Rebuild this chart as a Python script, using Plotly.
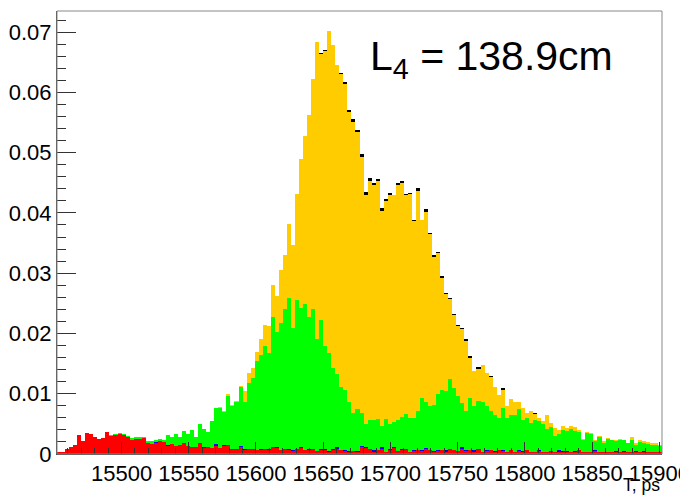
import numpy as np
import plotly.graph_objects as go

# Histogram binning: 150 bins of 3 ps
T_MIN = 15452.0
BIN_WIDTH = 3.0
N_BINS = 150

# Cumulative (stacked) levels per bin, read from the top edge of each layer
red_top = [
    0.0003, 0.0003, 0.0008, 0.0012, 0.0015, 0.0032, 0.0022, 0.0035, 0.0034, 0.0028,
    0.0025, 0.0027, 0.0036, 0.0030, 0.0031, 0.0034, 0.0031, 0.0028, 0.0024, 0.0025,
    0.0025, 0.0026, 0.0018, 0.0016, 0.0019, 0.0022, 0.0020, 0.0013, 0.0017, 0.0013,
    0.0015, 0.0018, 0.0013, 0.0012, 0.0011, 0.0019, 0.0010, 0.0012, 0.0010, 0.0014,
    0.0010, 0.0013, 0.0015, 0.0008, 0.0009, 0.0012, 0.0007, 0.0008, 0.0008, 0.0006,
    0.0007, 0.0009, 0.0006, 0.0011, 0.0010, 0.0006, 0.0008, 0.0007, 0.0005, 0.0009,
    0.0010, 0.0006, 0.0006, 0.0008, 0.0005, 0.0007, 0.0006, 0.0004, 0.0007, 0.0009,
    0.0006, 0.0005, 0.0004, 0.0005, 0.0004, 0.0011, 0.0010, 0.0008, 0.0004, 0.0006,
    0.0009, 0.0004, 0.0007, 0.0010, 0.0005, 0.0006, 0.0009, 0.0003, 0.0005, 0.0007,
    0.0005, 0.0008, 0.0006, 0.0004, 0.0005, 0.0007, 0.0004, 0.0009, 0.0006, 0.0005,
    0.0009, 0.0005, 0.0007, 0.0004, 0.0008, 0.0003, 0.0005, 0.0006, 0.0004, 0.0007,
    0.0005, 0.0004, 0.0006, 0.0003, 0.0005, 0.0004, 0.0006, 0.0003, 0.0002, 0.0005,
    0.0004, 0.0003, 0.0005, 0.0002, 0.0004, 0.0003, 0.0004, 0.0002, 0.0003, 0.0006,
    0.0002, 0.0003, 0.0002, 0.0005, 0.0003, 0.0002, 0.0004, 0.0002, 0.0003, 0.0002,
    0.0004, 0.0003, 0.0002, 0.0003, 0.0002, 0.0004, 0.0002, 0.0003, 0.0002, 0.0003,
]

blue_top = [
    0.0003, 0.0003, 0.0008, 0.0012, 0.0015, 0.0032, 0.0022, 0.0035, 0.0034, 0.0028,
    0.0025, 0.0027, 0.0036, 0.0030, 0.0031, 0.0034, 0.0031, 0.0028, 0.0024, 0.0025,
    0.0025, 0.0026, 0.0019, 0.0016, 0.0020, 0.0022, 0.0020, 0.0015, 0.0017, 0.0014,
    0.0015, 0.0018, 0.0014, 0.0012, 0.0012, 0.0019, 0.0011, 0.0012, 0.0010, 0.0016,
    0.0010, 0.0015, 0.0015, 0.0009, 0.0009, 0.0014, 0.0008, 0.0008, 0.0009, 0.0006,
    0.0008, 0.0009, 0.0008, 0.0011, 0.0011, 0.0007, 0.0008, 0.0008, 0.0007, 0.0009,
    0.0011, 0.0006, 0.0008, 0.0009, 0.0005, 0.0008, 0.0008, 0.0005, 0.0009, 0.0011,
    0.0006, 0.0007, 0.0005, 0.0005, 0.0005, 0.0013, 0.0011, 0.0008, 0.0006, 0.0007,
    0.0011, 0.0004, 0.0008, 0.0011, 0.0005, 0.0008, 0.0009, 0.0004, 0.0007, 0.0007,
    0.0006, 0.0010, 0.0006, 0.0005, 0.0006, 0.0007, 0.0006, 0.0009, 0.0007, 0.0005,
    0.0011, 0.0006, 0.0007, 0.0006, 0.0008, 0.0004, 0.0007, 0.0006, 0.0005, 0.0007,
    0.0007, 0.0004, 0.0007, 0.0003, 0.0007, 0.0005, 0.0006, 0.0004, 0.0004, 0.0007,
    0.0004, 0.0004, 0.0005, 0.0003, 0.0006, 0.0005, 0.0005, 0.0002, 0.0005, 0.0006,
    0.0003, 0.0003, 0.0003, 0.0007, 0.0003, 0.0003, 0.0004, 0.0003, 0.0005, 0.0002,
    0.0005, 0.0003, 0.0003, 0.0005, 0.0002, 0.0005, 0.0004, 0.0003, 0.0003, 0.0003,
]

green_top = [
    0.0003, 0.0003, 0.0008, 0.0012, 0.0015, 0.0032, 0.0022, 0.0035, 0.0034, 0.0028,
    0.0025, 0.0027, 0.0036, 0.0032, 0.0033, 0.0035, 0.0033, 0.0030, 0.0027, 0.0028,
    0.0028, 0.0029, 0.0022, 0.0022, 0.0024, 0.0025, 0.0023, 0.0032, 0.0028, 0.0034,
    0.0029, 0.0038, 0.0034, 0.0039, 0.0029, 0.0049, 0.0042, 0.0036, 0.0054, 0.0076,
    0.0077, 0.0069, 0.0096, 0.0079, 0.0086, 0.0111, 0.0087, 0.0118, 0.0126, 0.0154,
    0.0165, 0.0179, 0.0168, 0.0228, 0.0203, 0.0217, 0.0240, 0.0259, 0.0209, 0.0256,
    0.0242, 0.0249, 0.0228, 0.0241, 0.0190, 0.0223, 0.0179, 0.0167, 0.0143, 0.0132,
    0.0112, 0.0107, 0.0087, 0.0068, 0.0075, 0.0068, 0.0049, 0.0057, 0.0057, 0.0058,
    0.0047, 0.0058, 0.0049, 0.0053, 0.0057, 0.0062, 0.0067, 0.0060, 0.0060, 0.0071,
    0.0093, 0.0087, 0.0080, 0.0082, 0.0100, 0.0107, 0.0104, 0.0124, 0.0109, 0.0096,
    0.0085, 0.0071, 0.0093, 0.0079, 0.0088, 0.0086, 0.0080, 0.0072, 0.0065, 0.0060,
    0.0076, 0.0060, 0.0065, 0.0065, 0.0074, 0.0057, 0.0060, 0.0051, 0.0057, 0.0054,
    0.0049, 0.0041, 0.0044, 0.0030, 0.0034, 0.0039, 0.0038, 0.0041, 0.0038, 0.0036,
    0.0024, 0.0035, 0.0033, 0.0021, 0.0029, 0.0019, 0.0025, 0.0023, 0.0022, 0.0023,
    0.0023, 0.0018, 0.0023, 0.0015, 0.0020, 0.0018, 0.0017, 0.0015, 0.0015, 0.0013,
]

orange_top = [
    0.0003, 0.0003, 0.0008, 0.0012, 0.0015, 0.0032, 0.0022, 0.0035, 0.0034, 0.0028,
    0.0025, 0.0027, 0.0036, 0.0032, 0.0033, 0.0035, 0.0033, 0.0030, 0.0027, 0.0028,
    0.0028, 0.0029, 0.0022, 0.0022, 0.0024, 0.0025, 0.0023, 0.0032, 0.0028, 0.0034,
    0.0029, 0.0038, 0.0034, 0.0039, 0.0029, 0.0049, 0.0042, 0.0036, 0.0054, 0.0077,
    0.0078, 0.0071, 0.0099, 0.0081, 0.0088, 0.0113, 0.0104, 0.0134, 0.0143, 0.0170,
    0.0190, 0.0214, 0.0212, 0.0281, 0.0262, 0.0306, 0.0330, 0.0381, 0.0347, 0.0431,
    0.0490, 0.0528, 0.0563, 0.0622, 0.0683, 0.0663, 0.0668, 0.0702, 0.0679, 0.0646,
    0.0630, 0.0614, 0.0568, 0.0551, 0.0534, 0.0493, 0.0429, 0.0453, 0.0446, 0.0453,
    0.0403, 0.0419, 0.0429, 0.0429, 0.0446, 0.0449, 0.0430, 0.0432, 0.0387, 0.0436,
    0.0388, 0.0402, 0.0365, 0.0327, 0.0333, 0.0292, 0.0265, 0.0257, 0.0230, 0.0212,
    0.0208, 0.0187, 0.0160, 0.0138, 0.0141, 0.0148, 0.0134, 0.0127, 0.0112, 0.0098,
    0.0106, 0.0079, 0.0092, 0.0086, 0.0087, 0.0076, 0.0068, 0.0072, 0.0067, 0.0059,
    0.0054, 0.0064, 0.0052, 0.0043, 0.0040, 0.0046, 0.0043, 0.0047, 0.0044, 0.0040,
    0.0025, 0.0036, 0.0035, 0.0024, 0.0030, 0.0021, 0.0027, 0.0024, 0.0024, 0.0025,
    0.0024, 0.0019, 0.0028, 0.0019, 0.0024, 0.0021, 0.0020, 0.0018, 0.0018, 0.0015,
]

total_top = [
    0.0003, 0.0003, 0.0008, 0.0012, 0.0015, 0.0032, 0.0022, 0.0035, 0.0034, 0.0028,
    0.0025, 0.0027, 0.0036, 0.0032, 0.0033, 0.0035, 0.0033, 0.0030, 0.0027, 0.0028,
    0.0028, 0.0029, 0.0022, 0.0022, 0.0024, 0.0025, 0.0023, 0.0032, 0.0028, 0.0034,
    0.0029, 0.0038, 0.0034, 0.0039, 0.0029, 0.0049, 0.0042, 0.0036, 0.0054, 0.0077,
    0.0078, 0.0071, 0.0099, 0.0081, 0.0088, 0.0113, 0.0104, 0.0134, 0.0143, 0.0170,
    0.0190, 0.0214, 0.0212, 0.0281, 0.0262, 0.0306, 0.0330, 0.0381, 0.0347, 0.0431,
    0.0490, 0.0528, 0.0563, 0.0622, 0.0683, 0.0665, 0.0670, 0.0702, 0.0679, 0.0646,
    0.0632, 0.0618, 0.0571, 0.0555, 0.0538, 0.0498, 0.0435, 0.0458, 0.0450, 0.0457,
    0.0408, 0.0423, 0.0433, 0.0430, 0.0449, 0.0453, 0.0432, 0.0433, 0.0389, 0.0441,
    0.0389, 0.0407, 0.0367, 0.0330, 0.0335, 0.0295, 0.0267, 0.0259, 0.0232, 0.0214,
    0.0209, 0.0190, 0.0162, 0.0138, 0.0144, 0.0148, 0.0134, 0.0129, 0.0112, 0.0098,
    0.0109, 0.0079, 0.0092, 0.0087, 0.0087, 0.0076, 0.0068, 0.0072, 0.0068, 0.0059,
    0.0054, 0.0064, 0.0052, 0.0043, 0.0040, 0.0046, 0.0043, 0.0047, 0.0044, 0.0040,
    0.0025, 0.0036, 0.0035, 0.0024, 0.0030, 0.0021, 0.0027, 0.0024, 0.0024, 0.0025,
    0.0024, 0.0019, 0.0028, 0.0019, 0.0024, 0.0021, 0.0020, 0.0018, 0.0018, 0.0015,
]

# Layers drawn back to front (largest cumulative level first), as a THStack does
layers = [
    ("total", total_top, "#000000"),
    ("orange", orange_top, "#FFCC00"),
    ("green", green_top, "#00FF00"),
    ("blue", blue_top, "#0000FF"),
    ("red", red_top, "#FF0000"),
]

bin_centers = T_MIN + BIN_WIDTH * (np.arange(N_BINS) + 0.5)

FONT = "Liberation Sans, Arial, Helvetica, sans-serif"

fig = go.Figure()
for name, values, color in layers:
    fig.add_trace(go.Bar(
        x=bin_centers, y=values, width=BIN_WIDTH, name=name,
        marker=dict(color=color, line=dict(width=0)),
        showlegend=False, hoverinfo="skip",
    ))

fig.update_layout(
    width=680, height=496,
    margin=dict(l=57, r=18, t=11, b=42, autoexpand=False),
    paper_bgcolor="white", plot_bgcolor="white",
    barmode="overlay", bargap=0,
    font=dict(family=FONT, color="black"),
    xaxis=dict(
        range=[T_MIN, T_MIN + BIN_WIDTH * N_BINS],
        tickmode="linear", tick0=15500, dtick=50, tickformat="d",
        ticks="inside", ticklen=12, tickcolor="#333", tickwidth=1,
        minor=dict(dtick=10, ticks="inside", ticklen=6, tickcolor="#333"),
        showgrid=False, zeroline=False, automargin=False,
        ticklabeloverflow="allow",
        showline=True, linecolor="#444", linewidth=1,
        tickfont=dict(size=22, family=FONT, color="black"),
    ),
    yaxis=dict(
        range=[0, 0.0735],
        tickmode="linear", tick0=0, dtick=0.01,
        ticks="inside", ticklen=19, tickcolor="#333", tickwidth=1,
        minor=dict(dtick=0.002, ticks="inside", ticklen=9, tickcolor="#333"),
        showgrid=False, zeroline=False, automargin=False,
        showline=True, linecolor="#444", linewidth=1,
        tickfont=dict(size=22, family=FONT, color="black"),
    ),
    shapes=[dict(
        type="rect", xref="paper", yref="paper", x0=0, y0=0, x1=1, y1=1,
        line=dict(color="#888", width=1), fillcolor="rgba(0,0,0,0)", layer="above",
    )],
    annotations=[
        dict(
            text="L<sub>4</sub> = 138.9cm", xref="paper", yref="paper",
            x=0.514, y=0.955, xanchor="left", yanchor="top", showarrow=False,
            font=dict(size=41, family=FONT, color="black"),
        ),
        dict(
            text="T, ps", xref="paper", yref="paper",
            x=1.0, y=-0.07, xanchor="right", yanchor="middle", showarrow=False,
            font=dict(size=17.5, family=FONT, color="black"),
        ),
    ],
)

fig.write_html("out.html")
